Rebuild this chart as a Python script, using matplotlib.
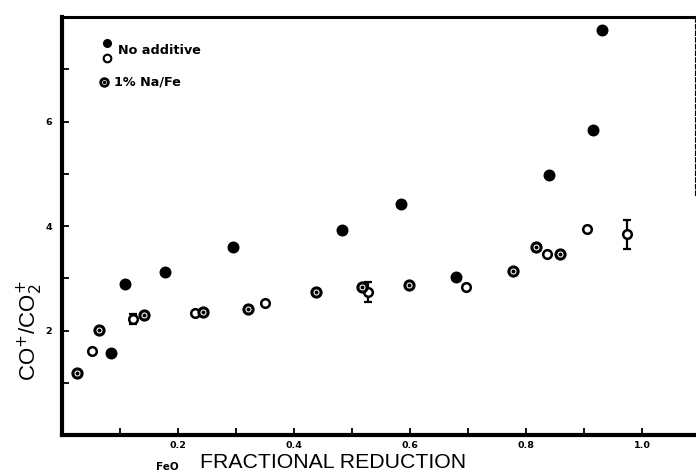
import matplotlib
matplotlib.use("Agg")
import matplotlib.pyplot as plt
import numpy as np

# No additive (filled)
filled_x = [0.084, 0.109, 0.178, 0.295, 0.483, 0.584, 0.679, 0.840, 0.916, 0.931]
filled_y = [1.57, 2.89, 3.12, 3.59, 3.92, 4.42, 3.02, 4.97, 5.83, 7.76]

# No additive (open)
open_x = [0.052, 0.122, 0.229, 0.350, 0.528, 0.697, 0.836, 0.905, 0.974]
open_y = [1.61, 2.22, 2.33, 2.52, 2.73, 2.83, 3.46, 3.94, 3.84]
open_err = [0.0, 0.10, 0.0, 0.0, 0.19, 0.0, 0.0, 0.0, 0.28]

# 1% Na/Fe
na_x = [0.026, 0.064, 0.141, 0.243, 0.321, 0.438, 0.517, 0.598, 0.778, 0.817, 0.859]
na_y = [1.19, 2.01, 2.29, 2.35, 2.41, 2.73, 2.83, 2.87, 3.14, 3.59, 3.46]

x_major = [0.2, 0.4, 0.6, 0.8, 1.0]
x_major_labels = ["0.2", "0.4", "0.6", "0.8", "1.0"]
y_major = [2, 4, 6]
y_major_labels = ["2", "4", "6"]

plt.rcParams['font.family'] = ['Liberation Sans', 'DejaVu Sans']

fig = plt.figure(figsize=(6.96, 4.74), dpi=100)
ax = fig.add_axes([62/696, (474-435)/474, (695-62)/696, (435-17)/474])
ax.set_xlim(0, 1.091)
ax.set_ylim(0, 8)

k = 'black'
ax.plot(filled_x, filled_y, 'o', ms=7.4, mfc=k, mec=k, mew=1.2, ls='none')

err = np.array(open_err)
mask = err > 0
ax.errorbar(np.array(open_x)[mask], np.array(open_y)[mask], yerr=err[mask],
            fmt='none', ecolor=k, elinewidth=1.6, capsize=3, capthick=1.6)
ax.plot(open_x, open_y, 'o', ms=6.2, mfc='white', mec=k, mew=1.8, ls='none', zorder=3)

ax.plot(na_x, na_y, 'o', ms=6.6, mfc='white', mec=k, mew=2.2, ls='none', zorder=3)
ax.plot(na_x, na_y, 'o', ms=1.8, mfc=k, mec=k, ls='none', zorder=4)

# ticks
tick_font = dict(family=['DejaVu Sans'], size=6.8, weight='bold')
ax.set_xticks(x_major)
ax.set_xticklabels(x_major_labels, fontdict=tick_font)
ax.set_xticks(np.arange(0.1, 1.1, 0.2), minor=True)
ax.set_yticks(y_major)
ax.set_yticklabels(y_major_labels, fontdict=tick_font)
ax.set_yticks([1, 3, 5, 7], minor=True)
ax.tick_params(which='both', direction='in', length=5, width=1.3)
ax.tick_params(axis='x', pad=4)
ax.tick_params(axis='y', pad=7)

for s in ['left', 'bottom']:
    ax.spines[s].set_linewidth(3)
ax.spines['top'].set_linewidth(2.2)
ax.spines['right'].set_linewidth(0.8)
ax.spines['right'].set_linestyle((0, (4, 2)))
ax.spines['right'].set_bounds(4.6, 8)

ax.set_xlabel('FRACTIONAL REDUCTION', fontsize=15.3)
ax.xaxis.set_label_coords(0.428, -0.044, transform=ax.transAxes)
ax.set_ylabel(r'CO$^{+}$/CO$_{2}^{+}$', fontsize=16)
ax.yaxis.set_label_coords(-0.027, 0.25)
ax.text(0.167, -0.076, 'FeO', transform=ax.transAxes, fontsize=7.5,
        fontweight='bold', family=['DejaVu Sans'], ha='center', va='center')

# legend (manual)
leg_font = dict(fontsize=9.2, fontweight='bold', family=['DejaVu Sans'], va='center')
ax.plot([0.0716], [0.937], 'o', transform=ax.transAxes, ms=5.5, mfc=k, mec=k, clip_on=False)
ax.plot([0.0716], [0.903], 'o', transform=ax.transAxes, ms=5.5, mfc='white', mec=k, mew=1.5, clip_on=False)
ax.text(0.088, 0.920, 'No additive', transform=ax.transAxes, **leg_font)
ax.plot([0.067], [0.845], 'o', transform=ax.transAxes, ms=5.5, mfc='white', mec=k, mew=2.0, clip_on=False)
ax.plot([0.067], [0.845], 'o', transform=ax.transAxes, ms=1.5, mfc=k, mec=k, clip_on=False)
ax.text(0.082, 0.845, '1% Na/Fe', transform=ax.transAxes, **leg_font)

fig.savefig('out.png', dpi=100)
